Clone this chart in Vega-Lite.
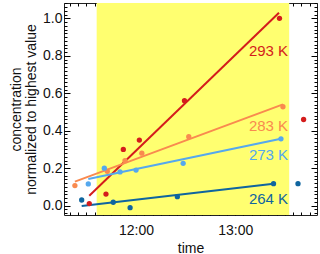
{
  "$schema": "https://vega.github.io/schema/vega-lite/v6.json",
  "autosize": "none",
  "width": 253,
  "height": 212,
  "padding": {"left": 64, "top": 3, "right": 3, "bottom": 39},
  "config": {
    "font": "Liberation Sans",
    "view": {"stroke": "#222", "strokeWidth": 1},
    "axis": {"zindex": 1, "domain": false, "grid": false, "ticks": true, "tickColor": "#000", "tickWidth": 1, "tickOpacity": 1, "labelColor": "#111", "titleColor": "#111", "labelFontSize": 14, "titleFontSize": 14, "titleFontWeight": "normal"}
  },
  "resolve": {"axis": {"x": "independent", "y": "independent"}},
  "layer": [
    {
      "data": {"values": [{"start": "2020-01-01T11:36:10", "end": "2020-01-01T13:32:40"}]},
      "mark": {"type": "rect", "color": "#ffff70"},
      "encoding": {
        "x": {
          "field": "start", "type": "temporal", "title": "time",
          "scale": {"domain": [{"year": 2020, "month": 1, "date": 1, "hours": 11, "minutes": 16, "seconds": 24}, {"year": 2020, "month": 1, "date": 1, "hours": 13, "minutes": 49, "seconds": 30}], "nice": false},
          "axis": {
            "orient": "bottom",
            "values": [{"year": 2020, "month": 1, "date": 1, "hours": 12, "minutes": 0}, {"year": 2020, "month": 1, "date": 1, "hours": 13, "minutes": 0}],
            "format": "%H:%M",
            "offset": -6,
            "tickSize": 6,
            "labelPadding": 8,
            "titlePadding": 4
          }
        },
        "x2": {"field": "end"}
      }
    },
    {
      "data": {"values": [
        {"series": "293 K", "time": "2020-01-01T11:31:42", "value": 0.053},
        {"series": "293 K", "time": "2020-01-01T13:26:30", "value": 1.03},
        {"series": "283 K", "time": "2020-01-01T11:23:00", "value": 0.128},
        {"series": "283 K", "time": "2020-01-01T13:28:54", "value": 0.541},
        {"series": "273 K", "time": "2020-01-01T11:31:06", "value": 0.142},
        {"series": "273 K", "time": "2020-01-01T13:27:42", "value": 0.357},
        {"series": "264 K", "time": "2020-01-01T11:27:06", "value": -0.002},
        {"series": "264 K", "time": "2020-01-01T13:23:12", "value": 0.117}
      ]},
      "mark": {"type": "line", "strokeWidth": 2},
      "encoding": {
        "x": {"field": "time", "type": "temporal",
          "scale": {"domain": [{"year": 2020, "month": 1, "date": 1, "hours": 11, "minutes": 16, "seconds": 24}, {"year": 2020, "month": 1, "date": 1, "hours": 13, "minutes": 49, "seconds": 30}], "nice": false},
          "axis": {
            "orient": "bottom", "title": null, "labels": false,
            "values": [
              {"year": 2020, "month": 1, "date": 1, "hours": 11, "minutes": 20}, {"year": 2020, "month": 1, "date": 1, "hours": 11, "minutes": 25},
              {"year": 2020, "month": 1, "date": 1, "hours": 11, "minutes": 30}, {"year": 2020, "month": 1, "date": 1, "hours": 11, "minutes": 35},
              {"year": 2020, "month": 1, "date": 1, "hours": 11, "minutes": 40}, {"year": 2020, "month": 1, "date": 1, "hours": 11, "minutes": 45},
              {"year": 2020, "month": 1, "date": 1, "hours": 11, "minutes": 50}, {"year": 2020, "month": 1, "date": 1, "hours": 11, "minutes": 55},
              {"year": 2020, "month": 1, "date": 1, "hours": 12, "minutes": 5}, {"year": 2020, "month": 1, "date": 1, "hours": 12, "minutes": 10},
              {"year": 2020, "month": 1, "date": 1, "hours": 12, "minutes": 15}, {"year": 2020, "month": 1, "date": 1, "hours": 12, "minutes": 20},
              {"year": 2020, "month": 1, "date": 1, "hours": 12, "minutes": 25}, {"year": 2020, "month": 1, "date": 1, "hours": 12, "minutes": 30},
              {"year": 2020, "month": 1, "date": 1, "hours": 12, "minutes": 35}, {"year": 2020, "month": 1, "date": 1, "hours": 12, "minutes": 40},
              {"year": 2020, "month": 1, "date": 1, "hours": 12, "minutes": 45}, {"year": 2020, "month": 1, "date": 1, "hours": 12, "minutes": 50},
              {"year": 2020, "month": 1, "date": 1, "hours": 12, "minutes": 55}, {"year": 2020, "month": 1, "date": 1, "hours": 13, "minutes": 5},
              {"year": 2020, "month": 1, "date": 1, "hours": 13, "minutes": 10}, {"year": 2020, "month": 1, "date": 1, "hours": 13, "minutes": 15},
              {"year": 2020, "month": 1, "date": 1, "hours": 13, "minutes": 20}, {"year": 2020, "month": 1, "date": 1, "hours": 13, "minutes": 25},
              {"year": 2020, "month": 1, "date": 1, "hours": 13, "minutes": 30}, {"year": 2020, "month": 1, "date": 1, "hours": 13, "minutes": 35},
              {"year": 2020, "month": 1, "date": 1, "hours": 13, "minutes": 40}, {"year": 2020, "month": 1, "date": 1, "hours": 13, "minutes": 45}
            ],
            "offset": -3,
            "tickSize": 3
          }
        },
        "y": {
          "field": "value", "type": "quantitative",
          "title": ["concentration", "normalized to highest value"],
          "scale": {"domain": [-0.05, 1.082], "nice": false, "zero": false},
          "axis": {
            "orient": "left",
            "values": [0, 0.2, 0.4, 0.6, 0.8, 1.0],
            "format": ".1f",
            "offset": -6,
            "tickSize": 6,
            "labelPadding": 2,
            "titlePadding": 4,
            "titleLineHeight": 15
          }
        },
        "color": {"field": "series", "type": "nominal", "legend": null,
          "scale": {"domain": ["293 K", "283 K", "273 K", "264 K"], "range": ["#d41c1c", "#f98a4f", "#55a8ee", "#0f659f"]}}
      }
    },
    {
      "data": {"values": [
        {"series": "293 K", "time": "2020-01-01T11:31:42", "value": 0.011},
        {"series": "293 K", "time": "2020-01-01T11:41:48", "value": 0.062},
        {"series": "293 K", "time": "2020-01-01T11:52:18", "value": 0.30},
        {"series": "293 K", "time": "2020-01-01T12:02:00", "value": 0.35},
        {"series": "293 K", "time": "2020-01-01T12:29:18", "value": 0.56},
        {"series": "293 K", "time": "2020-01-01T13:26:48", "value": 1.0},
        {"series": "283 K", "time": "2020-01-01T11:23:00", "value": 0.107},
        {"series": "283 K", "time": "2020-01-01T11:42:36", "value": 0.183},
        {"series": "283 K", "time": "2020-01-01T11:53:18", "value": 0.24},
        {"series": "283 K", "time": "2020-01-01T12:03:30", "value": 0.28},
        {"series": "283 K", "time": "2020-01-01T12:31:54", "value": 0.368},
        {"series": "283 K", "time": "2020-01-01T13:28:54", "value": 0.528},
        {"series": "273 K", "time": "2020-01-01T11:31:06", "value": 0.116},
        {"series": "273 K", "time": "2020-01-01T11:40:48", "value": 0.20},
        {"series": "273 K", "time": "2020-01-01T11:50:18", "value": 0.18},
        {"series": "273 K", "time": "2020-01-01T12:00:00", "value": 0.19},
        {"series": "273 K", "time": "2020-01-01T12:28:30", "value": 0.226},
        {"series": "273 K", "time": "2020-01-01T13:27:42", "value": 0.357},
        {"series": "264 K", "time": "2020-01-01T11:27:06", "value": 0.03},
        {"series": "264 K", "time": "2020-01-01T11:46:12", "value": 0.018},
        {"series": "264 K", "time": "2020-01-01T11:56:24", "value": -0.011},
        {"series": "264 K", "time": "2020-01-01T12:25:00", "value": 0.048},
        {"series": "264 K", "time": "2020-01-01T13:23:12", "value": 0.117}
      ]},
      "mark": {"type": "circle", "size": 28, "opacity": 1},
      "encoding": {
        "x": {"field": "time", "type": "temporal",
          "scale": {"domain": [{"year": 2020, "month": 1, "date": 1, "hours": 11, "minutes": 16, "seconds": 24}, {"year": 2020, "month": 1, "date": 1, "hours": 13, "minutes": 49, "seconds": 30}], "nice": false},
          "axis": {
            "orient": "top", "title": null, "labels": false,
            "values": [{"year": 2020, "month": 1, "date": 1, "hours": 12, "minutes": 0}, {"year": 2020, "month": 1, "date": 1, "hours": 13, "minutes": 0}],
            "offset": -6,
            "tickSize": 6
          }
        },
        "y": {"field": "value", "type": "quantitative",
          "scale": {"domain": [-0.05, 1.082], "nice": false, "zero": false},
          "axis": {
            "orient": "left", "title": null, "labels": false,
            "values": [-0.04, -0.02, 0.02, 0.04, 0.06, 0.08, 0.1, 0.12, 0.14, 0.16, 0.18, 0.22, 0.24, 0.26, 0.28, 0.3, 0.32, 0.34, 0.36, 0.38, 0.42, 0.44, 0.46, 0.48, 0.5, 0.52, 0.54, 0.56, 0.58, 0.62, 0.64, 0.66, 0.68, 0.7, 0.72, 0.74, 0.76, 0.78, 0.82, 0.84, 0.86, 0.88, 0.9, 0.92, 0.94, 0.96, 0.98, 1.02, 1.04, 1.06, 1.08],
            "offset": -3,
            "tickSize": 3
          }
        },
        "color": {"field": "series", "type": "nominal", "legend": null,
          "scale": {"domain": ["293 K", "283 K", "273 K", "264 K"], "range": ["#d41c1c", "#f98a4f", "#55a8ee", "#0f659f"]}}
      }
    },
    {
      "data": {"values": [
        {"series": "293 K", "time": "2020-01-01T13:41:24", "value": 0.46},
        {"series": "264 K", "time": "2020-01-01T13:38:00", "value": 0.117}
      ]},
      "mark": {"type": "circle", "size": 28, "opacity": 1},
      "encoding": {
        "x": {"field": "time", "type": "temporal",
          "scale": {"domain": [{"year": 2020, "month": 1, "date": 1, "hours": 11, "minutes": 16, "seconds": 24}, {"year": 2020, "month": 1, "date": 1, "hours": 13, "minutes": 49, "seconds": 30}], "nice": false},
          "axis": {
            "orient": "top", "title": null, "labels": false,
            "values": [
              {"year": 2020, "month": 1, "date": 1, "hours": 11, "minutes": 20}, {"year": 2020, "month": 1, "date": 1, "hours": 11, "minutes": 25},
              {"year": 2020, "month": 1, "date": 1, "hours": 11, "minutes": 30}, {"year": 2020, "month": 1, "date": 1, "hours": 11, "minutes": 35},
              {"year": 2020, "month": 1, "date": 1, "hours": 11, "minutes": 40}, {"year": 2020, "month": 1, "date": 1, "hours": 11, "minutes": 45},
              {"year": 2020, "month": 1, "date": 1, "hours": 11, "minutes": 50}, {"year": 2020, "month": 1, "date": 1, "hours": 11, "minutes": 55},
              {"year": 2020, "month": 1, "date": 1, "hours": 12, "minutes": 5}, {"year": 2020, "month": 1, "date": 1, "hours": 12, "minutes": 10},
              {"year": 2020, "month": 1, "date": 1, "hours": 12, "minutes": 15}, {"year": 2020, "month": 1, "date": 1, "hours": 12, "minutes": 20},
              {"year": 2020, "month": 1, "date": 1, "hours": 12, "minutes": 25}, {"year": 2020, "month": 1, "date": 1, "hours": 12, "minutes": 30},
              {"year": 2020, "month": 1, "date": 1, "hours": 12, "minutes": 35}, {"year": 2020, "month": 1, "date": 1, "hours": 12, "minutes": 40},
              {"year": 2020, "month": 1, "date": 1, "hours": 12, "minutes": 45}, {"year": 2020, "month": 1, "date": 1, "hours": 12, "minutes": 50},
              {"year": 2020, "month": 1, "date": 1, "hours": 12, "minutes": 55}, {"year": 2020, "month": 1, "date": 1, "hours": 13, "minutes": 5},
              {"year": 2020, "month": 1, "date": 1, "hours": 13, "minutes": 10}, {"year": 2020, "month": 1, "date": 1, "hours": 13, "minutes": 15},
              {"year": 2020, "month": 1, "date": 1, "hours": 13, "minutes": 20}, {"year": 2020, "month": 1, "date": 1, "hours": 13, "minutes": 25},
              {"year": 2020, "month": 1, "date": 1, "hours": 13, "minutes": 30}, {"year": 2020, "month": 1, "date": 1, "hours": 13, "minutes": 35},
              {"year": 2020, "month": 1, "date": 1, "hours": 13, "minutes": 40}, {"year": 2020, "month": 1, "date": 1, "hours": 13, "minutes": 45}
            ],
            "offset": -3,
            "tickSize": 3
          }
        },
        "y": {"field": "value", "type": "quantitative",
          "scale": {"domain": [-0.05, 1.082], "nice": false, "zero": false},
          "axis": {
            "orient": "right", "title": null, "labels": false,
            "values": [0, 0.2, 0.4, 0.6, 0.8, 1.0],
            "offset": -6,
            "tickSize": 6
          }
        },
        "color": {"field": "series", "type": "nominal", "legend": null,
          "scale": {"domain": ["293 K", "283 K", "273 K", "264 K"], "range": ["#d41c1c", "#f98a4f", "#55a8ee", "#0f659f"]}}
      }
    },
    {
      "data": {"values": [
        {"series": "293 K", "time": "2020-01-01T13:32:00", "value": 0.826},
        {"series": "283 K", "time": "2020-01-01T13:32:00", "value": 0.425},
        {"series": "273 K", "time": "2020-01-01T13:32:00", "value": 0.27},
        {"series": "264 K", "time": "2020-01-01T13:32:00", "value": 0.034}
      ]},
      "mark": {"type": "text", "align": "right", "baseline": "middle", "fontSize": 15},
      "encoding": {
        "x": {"field": "time", "type": "temporal", "axis": null,
          "scale": {"domain": [{"year": 2020, "month": 1, "date": 1, "hours": 11, "minutes": 16, "seconds": 24}, {"year": 2020, "month": 1, "date": 1, "hours": 13, "minutes": 49, "seconds": 30}], "nice": false}},
        "y": {"field": "value", "type": "quantitative",
          "scale": {"domain": [-0.05, 1.082], "nice": false, "zero": false},
          "axis": {
            "orient": "right", "title": null, "labels": false,
            "values": [-0.04, -0.02, 0.02, 0.04, 0.06, 0.08, 0.1, 0.12, 0.14, 0.16, 0.18, 0.22, 0.24, 0.26, 0.28, 0.3, 0.32, 0.34, 0.36, 0.38, 0.42, 0.44, 0.46, 0.48, 0.5, 0.52, 0.54, 0.56, 0.58, 0.62, 0.64, 0.66, 0.68, 0.7, 0.72, 0.74, 0.76, 0.78, 0.82, 0.84, 0.86, 0.88, 0.9, 0.92, 0.94, 0.96, 0.98, 1.02, 1.04, 1.06, 1.08],
            "offset": -3,
            "tickSize": 3
          }
        },
        "text": {"field": "series"},
        "color": {"field": "series", "type": "nominal", "legend": null,
          "scale": {"domain": ["293 K", "283 K", "273 K", "264 K"], "range": ["#d41c1c", "#f98a4f", "#55a8ee", "#0f659f"]}}
      }
    }
  ]
}
